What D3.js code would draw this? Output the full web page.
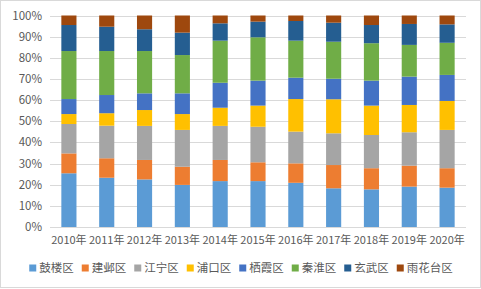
<!DOCTYPE html>
<html>
<head>
<meta charset="utf-8">
<script src="https://cdn.jsdelivr.net/npm/d3@7"></script>
<style>
  body { margin: 0; background: #fff; }
  text { font-family: "Noto Sans CJK SC", "Noto Sans", sans-serif; fill: #595959; }
</style>
</head>
<body>
<div class="chart"></div>
<script>
const years = ["2010年","2011年","2012年","2013年","2014年","2015年","2016年","2017年","2018年","2019年","2020年"];
const districts = ["鼓楼区","建邺区","江宁区","浦口区","栖霞区","秦淮区","玄武区","雨花台区"];
const colors = ["#5B9BD5","#ED7D31","#A5A5A5","#FFC000","#4472C4","#70AD47","#255E91","#9E480E"];
// share (%) per district, one array per district, in year order
const gulou   = [25.4, 23.3, 22.5, 19.9, 21.7, 21.7, 20.9, 18.3, 17.8, 19.1, 18.6];
const jianye  = [ 9.4,  9.2,  9.2,  8.6, 10.0,  8.9,  9.2, 11.0, 10.0,  9.9,  9.2];
const jiangning = [13.9, 15.4, 16.1, 17.4, 16.1, 16.8, 15.0, 15.0, 15.7, 15.8, 18.1];
const pukou   = [ 4.7,  5.9,  7.5,  7.5,  8.6, 10.0, 15.4, 16.1, 13.9, 12.9, 13.7];
const qixia   = [ 7.1,  8.6,  7.9,  9.8, 11.8, 11.8, 10.1,  9.7, 11.8, 13.4, 12.3];
const qinhuai = [22.7, 20.8, 20.0, 18.1, 19.9, 20.5, 17.5, 17.5, 17.7, 15.0, 15.2];
const xuanwu  = [12.3, 11.5, 10.3, 10.6,  8.2,  7.4,  9.3,  9.0,  8.6,  9.9,  8.7];
const yuhuatai = [4.5,  5.3,  6.5,  8.1,  3.7,  2.9,  2.6,  3.4,  4.5,  4.0,  4.2];
const yTicks = [0,10,20,30,40,50,60,70,80,90,100];

const series = [gulou, jianye, jiangning, pukou, qixia, qinhuai, xuanwu, yuhuatai];
const table = years.map((y, i) => {
    const row = {year: y};
    const total = d3.sum(series, s => s[i]);
    districts.forEach((d, k) => row[d] = series[k][i] / total);
    return row;
});

const width = 481, height = 289;
const svg = d3.select(".chart").append("svg")
    .attr("width", width).attr("height", height);

svg.append("rect")
    .attr("x", 0.5).attr("y", 0.5)
    .attr("width", width - 1).attr("height", height - 2)
    .attr("fill", "#fff").attr("stroke", "#d9d9d9");

const x = d3.scaleBand().domain(years).range([50, 466]).paddingInner(0.6).paddingOuter(0.3);
const y = d3.scaleLinear().domain([0, 1]).range([227, 15.5]);

// gridlines
svg.append("g")
    .selectAll("line")
    .data(yTicks)
    .join("line")
    .attr("x1", 50).attr("x2", 466)
    .attr("y1", d => Math.round(y(d / 100)) + 0.5)
    .attr("y2", d => Math.round(y(d / 100)) + 0.5)
    .attr("stroke", "#d9d9d9");

svg.append("g")
    .selectAll("text")
    .data(yTicks)
    .join("text")
    .attr("x", 42)
    .attr("y", d => y(d / 100))
    .attr("dy", "0.35em")
    .attr("text-anchor", "end")
    .style("font-size", "11.5px")
    .text(d => d + "%");

const stack = d3.stack().keys(districts);
const layers = stack(table);

svg.append("g")
    .selectAll("g")
    .data(layers)
    .join("g")
    .attr("fill", (d, i) => colors[i])
    .selectAll("rect")
    .data(d => d)
    .join("rect")
    .attr("x", d => x(d.data.year))
    .attr("width", x.bandwidth())
    .attr("y", d => y(d[1]))
    .attr("height", d => y(d[0]) - y(d[1]));

svg.append("g")
    .selectAll("text")
    .data(years)
    .join("text")
    .attr("x", d => x(d) + x.bandwidth() / 2)
    .attr("y", 244)
    .attr("text-anchor", "middle")
    .style("font-size", "11px")
    .text(d => d);

// legend
const legend = svg.append("g");
const items = legend.selectAll("g")
    .data(districts)
    .join("g");
items.append("rect")
    .attr("width", 7).attr("height", 7)
    .attr("y", -3.5)
    .attr("fill", (d, i) => colors[i]);
items.append("text")
    .attr("x", 10)
    .attr("dy", "0.35em")
    .style("font-size", "11.5px")
    .text(d => d);
let pos = 0;
items.each(function() {
    d3.select(this).attr("transform", `translate(${pos},0)`);
    pos += this.getBBox().width + 8;
});
pos -= 8;
legend.attr("transform", `translate(${(width - pos) / 2 + 0.5},268)`);
</script>
</body>
</html>
